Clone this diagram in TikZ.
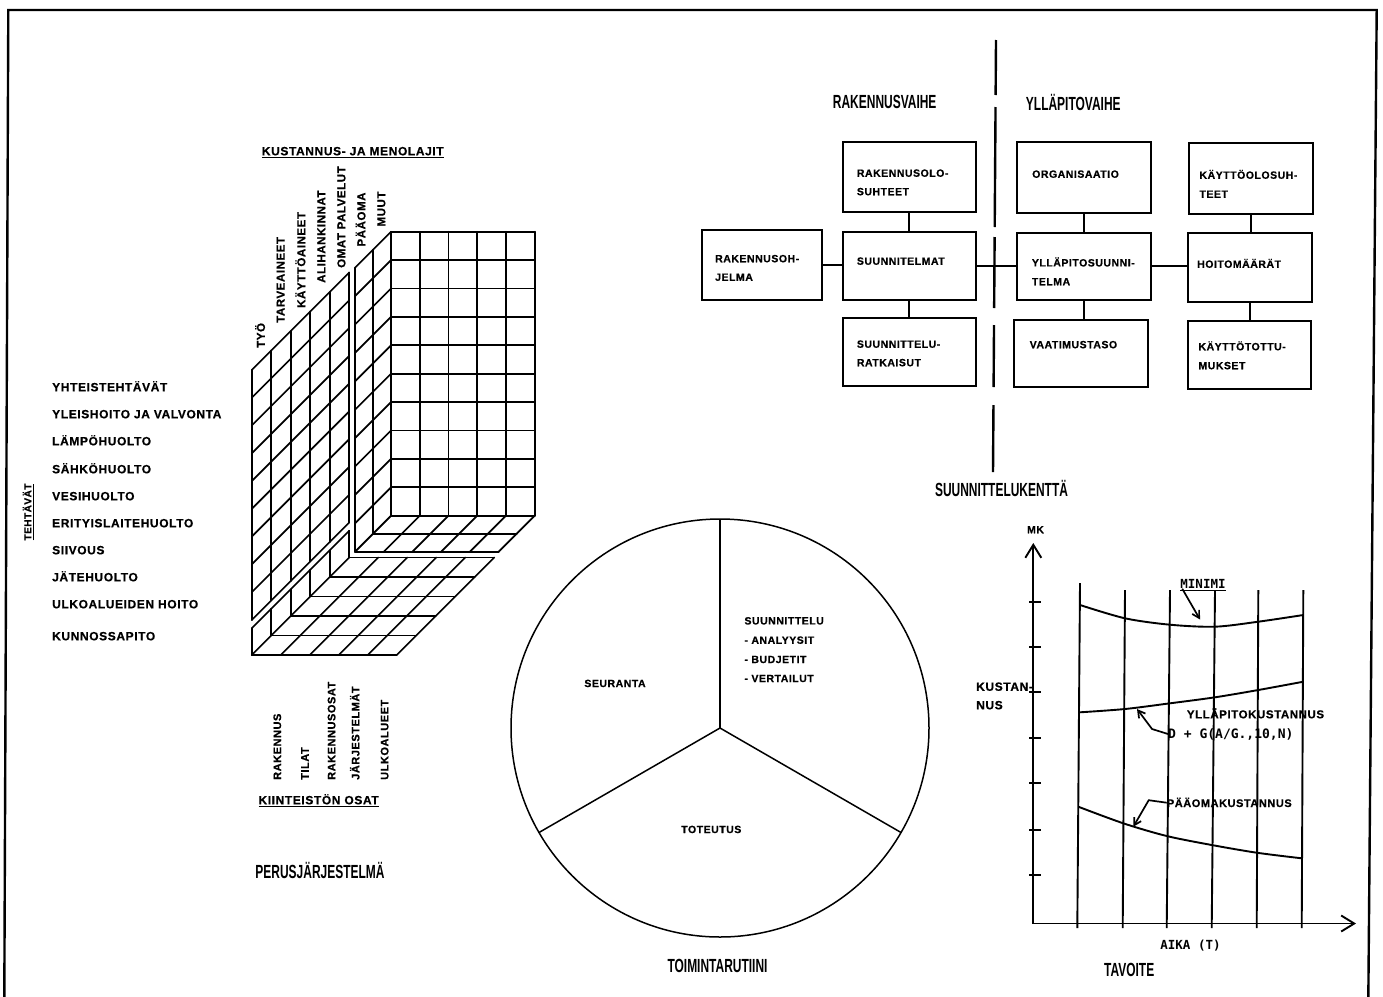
\documentclass[tikz,border=0pt]{standalone}
\usepackage{fontspec}
\setmainfont{Liberation Sans}
\newfontfamily\lblfont{Liberation Sans}[LetterSpace=5, BoldFeatures={FakeBold=0.6}]
\newfontfamily\headfont{Liberation Sans}[FakeStretch=0.63]
\newfontfamily\monofont{DejaVu Sans Mono}
\usetikzlibrary{arrows.meta}

\tikzset{
  grid/.style={line width=1.7pt, line cap=round, line join=round},
  frame/.style={line width=2.4pt},
  fbox/.style={draw, line width=1.8pt, inner sep=0pt, outer sep=0pt},
  link/.style={line width=1.8pt},
  phase/.style={line width=2.4pt},
  chart/.style={line width=1.9pt},
  barb/.style={-{Straight Barb[length=13pt,width=16pt]}},
  smallbarb/.style={-{Straight Barb[length=7pt,width=8pt]}},
  lbl/.style={font=\lblfont\bfseries\fontsize{12}{12}\selectfont, inner sep=0pt, text height=8.6pt, text depth=0pt},
  cubelbl/.style={font=\lblfont\bfseries\fontsize{11.5}{11.5}\selectfont, inner sep=0pt, text height=8.2pt, text depth=0pt},
  btxt/.style={font=\lblfont\bfseries\fontsize{10.5}{10.5}\selectfont, inner sep=0pt, text height=7.5pt, text depth=0pt, anchor=west},
  head/.style={font=\headfont\bfseries\fontsize{19}{19}\selectfont, inner sep=0pt, text height=13.6pt, text depth=0pt},
  mono/.style={font=\monofont\bfseries\fontsize{13}{13}\selectfont, inner sep=0pt, text height=9.5pt, text depth=0pt},
}

\begin{document}
\begin{tikzpicture}[x=1pt,y=-1pt]
\useasboundingbox (0,0) rectangle (1383,996);

% page frame
\draw[frame] (4.3,1000) -- (8.3,10) -- (1376.7,10) -- (1368.3,1000);

% ---------------- cost cube ----------------
% left wall: 9 task rows x 5 cost types
\foreach \i in {0,...,5}
  \draw[grid] ({251.7+19.5*\i},{370-19.5*\i}) -- ++(0,250);
\foreach \k in {0,...,9}
  \draw[grid] (251.7,{370+27.78*\k}) -- ++(97.5,-97.5);
% bottom slab (maintenance row): side face and floor
\foreach \i in {0,...,5}
  \draw[grid] ({251.7+19.5*\i},{628.3-19.5*\i}) -- ++(0,26.7);
\draw[grid] (251.7,628.3) -- ++(97.5,-97.5);
\foreach \j in {0,...,5}
  \draw[grid] ({251.7+29*\j},655) -- ++(97.5,-97.5);
\foreach \i in {0,...,5}
  \draw[grid] ({251.7+19.5*\i},{655-19.5*\i}) -- ++(145,0);
% rear block: back wall 10 x 5
\foreach \j in {0,...,5}
  \draw[grid] ({391+28.74*\j},231.7) -- ++(0,284);
\foreach \k in {0,...,10}
  \draw[grid] (391,{231.7+28.4*\k}) -- ++(143.7,0);
% rear block: side strip (two cost types)
\foreach \m in {1,2}
  \draw[grid] ({391-18*\m},{231.7+18*\m}) -- ++(0,284);
\foreach \k in {0,...,10}
  \draw[grid] (391,{231.7+28.4*\k}) -- ++(-36,36);
% rear block: floor strip
\foreach \m in {1,2}
  \draw[grid] ({391-18*\m},{515.7+18*\m}) -- ++(143.7,0);
\foreach \j in {0,...,5}
  \draw[grid] ({391+28.74*\j},515.7) -- ++(-36,36);

% cube captions
\node[lbl, anchor=west] (costtitle) at (261.7,151) {\underline{KUSTANNUS- JA MENOLAJIT}};
\foreach \txt/\xx/\yy [count=\n] in {TYÖ/260.8/348, TARVEAINEET/280.5/323,
    KÄYTTÖAINEET/301.2/308, ALIHANKINNAT/321.3/283, OMAT PALVELUT/341.3/268,
    PÄÄOMA/361.3/246.7, MUUT/381.2/226.7}
  \node[cubelbl, rotate=90, anchor=west] (cost\n) at (\xx,\yy) {\txt};
\foreach \txt/\yy [count=\n] in {YHTEISTEHTÄVÄT/387, YLEISHOITO JA VALVONTA/414,
    LÄMPÖHUOLTO/441, SÄHKÖHUOLTO/469, VESIHUOLTO/496, ERITYISLAITEHUOLTO/523,
    SIIVOUS/550, JÄTEHUOLTO/577, ULKOALUEIDEN HOITO/604, KUNNOSSAPITO/636}
  \node[lbl, anchor=west] (task\n) at (52,\yy) {\txt};
\node[lbl, rotate=90, font=\lblfont\bfseries\fontsize{10}{10}\selectfont] (tasktitle) at (27,512) {\underline{TEHTÄVÄT}};
\foreach \txt/\xx [count=\n] in {RAKENNUS/277, TILAT/304.7, RAKENNUSOSAT/331.3,
    JÄRJESTELMÄT/355.3, ULKOALUEET/384.3}
  \node[cubelbl, font=\lblfont\bfseries\fontsize{11}{11}\selectfont, rotate=90, anchor=west] (part\n) at (\xx,780) {\txt};
\node[lbl, anchor=west] (parttitle) at (258.3,800) {\underline{KIINTEISTÖN OSAT}};
\node[head] (hPer) at (320,871.7) {PERUSJÄRJESTELMÄ};

% ---------------- planning field ----------------
\node[head] (hRak) at (884.7,101.7) {RAKENNUSVAIHE};
\node[head] (hYll) at (1073.3,103.3) {YLLÄPITOVAIHE};
\node[head] (hSuu) at (1001.5,490) {SUUNNITTELUKENTTÄ};

% phase divider
\foreach \ya/\yb in {40/95, 107/227, 237/308, 325/387, 405/472}
  \draw[phase] ({996-3*(\ya-40)/432},\ya) -- ({996-3*(\yb-40)/432},\yb);

\node[fbox, minimum width=133.3pt, minimum height=70pt]   (rso) at (909.3,176.7) {};
\node[fbox, minimum width=133.3pt, minimum height=68.3pt] (sma) at (909.3,265.8) {};
\node[fbox, minimum width=133.3pt, minimum height=67.7pt] (sra) at (909.3,352.2) {};
\node[fbox, minimum width=120pt,   minimum height=70pt]   (roh) at (761.7,265) {};
\node[fbox, minimum width=134.3pt, minimum height=71pt]   (org) at (1083.8,177.2) {};
\node[fbox, minimum width=134.3pt, minimum height=67.3pt] (ysu) at (1083.8,266.3) {};
\node[fbox, minimum width=134.3pt, minimum height=67.3pt] (vts) at (1081.2,353.7) {};
\node[fbox, minimum width=123.4pt, minimum height=71pt]   (kos) at (1251,178.8) {};
\node[fbox, minimum width=123.4pt, minimum height=69pt]   (hom) at (1250,267.2) {};
\node[fbox, minimum width=122.4pt, minimum height=68.6pt] (ktt) at (1249.5,355) {};

\draw[link] (rso.south) -- (sma.north);
\draw[link] (sma.south) -- (sra.north);
\draw[link] (roh.east) -- (roh.east -| sma.west);
\draw[link] (sma.east) -- (sma.east -| ysu.west);
\draw[link] (org.south) -- (ysu.north);
\draw[link] (ysu.south) -- (ysu.south |- vts.north);
\draw[link] (ysu.east) -- (ysu.east -| hom.west);
\draw[link] (kos.south) -- (kos.south |- hom.north);
\draw[link] (hom.south) -- (hom.south |- ktt.north);

\node[btxt] (rsoA) at (856.7,173)   {RAKENNUSOLO-};
\node[btxt] (rsoB) at (856.7,191.5) {SUHTEET};
\node[btxt] (smaA) at (856.7,261)   {SUUNNITELMAT};
\node[btxt] (sraA) at (856.7,344)   {SUUNNITTELU-};
\node[btxt] (sraB) at (856.7,362.5) {RATKAISUT};
\node[btxt] (rohA) at (715,258.5)   {RAKENNUSOH-};
\node[btxt] (rohB) at (715,277)     {JELMA};
\node[btxt] (orgA) at (1032,174)    {ORGANISAATIO};
\node[btxt] (ysuA) at (1031.7,262.7) {YLLÄPITOSUUNNI-};
\node[btxt] (ysuB) at (1031.7,281.5) {TELMA};
\node[btxt] (vtsA) at (1029.5,344.5) {VAATIMUSTASO};
\node[btxt] (kosA) at (1199.3,175)  {KÄYTTÖOLOSUH-};
\node[btxt] (kosB) at (1199.3,194)  {TEET};
\node[btxt] (homA) at (1197,264)    {HOITOMÄÄRÄT};
\node[btxt] (kttA) at (1198.3,346.5) {KÄYTTÖTOTTU-};
\node[btxt] (kttB) at (1198.3,365.5) {MUKSET};

% ---------------- operating routine ----------------
\node[circle, draw, line width=1.5pt, minimum size=418pt, inner sep=0pt, outer sep=0pt] (pie) at (720,728) {};
\draw[line width=1.5pt] (pie.north) -- (pie.center);
\draw[line width=1.5pt] (pie.center) -- (pie.210);
\draw[line width=1.5pt] (pie.center) -- (pie.330);
\node[btxt, anchor=center] (seur) at (615,683.3) {SEURANTA};
\node[btxt] (suunA) at (744.3,620.7) {SUUNNITTELU};
\node[btxt] (suunB) at (744.3,640)   {- ANALYYSIT};
\node[btxt] (suunC) at (744.3,659.3) {- BUDJETIT};
\node[btxt] (suunD) at (744.3,678.3) {- VERTAILUT};
\node[btxt, anchor=center] (tote) at (711.3,829.3) {TOTEUTUS};
\node[head] (hToi) at (717.5,965.5) {TOIMINTARUTIINI};

% ---------------- cost target chart ----------------
\coordinate (O) at (1033.3,923.5);
\coordinate (ytip) at (1033.3,543);
\coordinate (xtip) at (1356,923.5);
\draw[chart, barb] (O) -- (ytip);
\draw[chart, barb] (O) -- (xtip);
\foreach \t in {601.7,646.7,691.7,737.7,782.7,830,875}
  \draw[chart] (1029,\t) -- (1041,\t);
\foreach \xt/\xb/\yt in {1080/1077.3/583, 1125/1122.7/590, 1170/1166.7/590,
    1215/1211.7/590, 1258.3/1256.7/590, 1303.3/1301.7/590}
  \draw[chart] (\xt,\yt) -- (\xb,928);
% total, maintenance and capital cost curves
\draw[chart] plot[smooth] coordinates {(1080,605) (1125,618.3) (1170,624.7) (1215,626.7) (1258.3,621.7) (1303.3,615)};
\draw[chart] plot[smooth] coordinates {(1080,712.3) (1125,709) (1170,703.3) (1215,697.3) (1258.3,690) (1303.3,681.7)};
\draw[chart] plot[smooth] coordinates {(1078.3,806.7) (1123.3,823.3) (1166.7,836) (1211.7,845) (1256.7,852.7) (1301.7,858.3)};

\node[lbl, font=\lblfont\bfseries\fontsize{10.5}{10.5}\selectfont, text height=7.5pt, anchor=center] (mk) at (1035.5,529.5) {MK};
\node[lbl, anchor=west] (kusA) at (976,686.5) {KUSTAN-};
\node[lbl, anchor=west] (kusB) at (976,705) {NUS};
\node[mono, font=\monofont\bfseries\fontsize{12.5}{12.5}\selectfont, text height=9pt, anchor=center] (minimi) at (1203,584) {\underline{MINIMI}};
\coordinate (minpt) at (1200,619.5);
\draw[line width=1.7pt, smallbarb] ([xshift=2pt]minimi.south west) -- (minpt);
\node[lbl, font=\lblfont\bfseries\fontsize{11.5}{11.5}\selectfont, anchor=west] (yllk) at (1186.7,714) {YLLÄPITOKUSTANNUS};
\node[mono, anchor=west] (frm) at (1168,734) {D + G(A/G.,10,N)};
\coordinate (yllpt) at (1137,709);
\draw[line width=1.7pt, smallbarb] (frm.west) -- ++(-16,-5) -- (yllpt);
\node[lbl, font=\lblfont\bfseries\fontsize{11}{11}\selectfont, anchor=west] (paak) at (1166.7,802.7) {PÄÄOMAKUSTANNUS};
\coordinate (paapt) at (1133.3,826.7);
\draw[line width=1.7pt, smallbarb] (paak.west) -- ++(-18,-2.5) -- (paapt);
\node[mono, font=\monofont\bfseries\fontsize{12.5}{12.5}\selectfont, anchor=center] (aika) at (1190.5,944.5) {AIKA (T)};
\node[head] (hTav) at (1129.2,969.2) {TAVOITE};

\end{tikzpicture}
\end{document}
